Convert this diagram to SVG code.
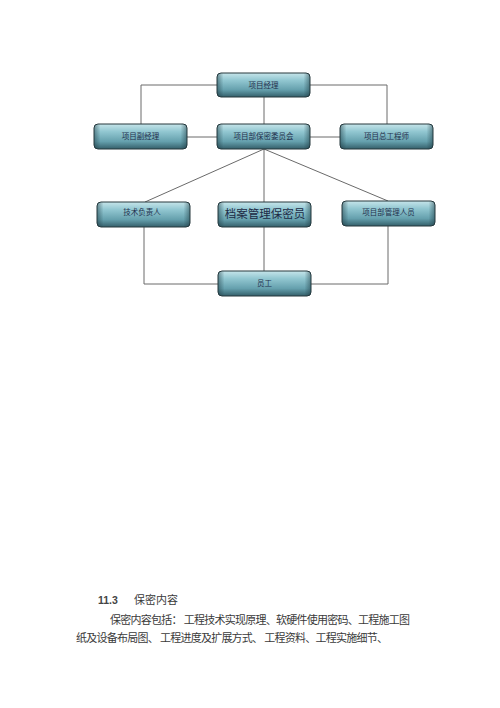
<svg xmlns="http://www.w3.org/2000/svg" width="500" height="708" viewBox="0 0 500 708">
<defs>
<linearGradient id="gv" x1="0" y1="0" x2="0" y2="1">
<stop offset="0" stop-color="#c6e5ea"/>
<stop offset="0.3" stop-color="#92c7d1"/>
<stop offset="0.7" stop-color="#65a0ad"/>
<stop offset="1" stop-color="#345f6a"/>
</linearGradient>
<linearGradient id="gh" x1="0" y1="0" x2="1" y2="0">
<stop offset="0" stop-color="#1d3a42" stop-opacity="0.5"/>
<stop offset="0.07" stop-color="#1d3a42" stop-opacity="0"/>
<stop offset="0.93" stop-color="#1d3a42" stop-opacity="0"/>
<stop offset="1" stop-color="#1d3a42" stop-opacity="0.5"/>
</linearGradient>
</defs>
<style>
.bx{fill:url(#gv);stroke:#27383c;stroke-width:1}
.sh{fill:url(#gh);stroke:none}
.lb{font-family:"Liberation Serif","Noto Sans CJK SC",serif;font-size:7.5px;fill:#22304d;text-anchor:middle}
.lg{font-family:"Liberation Serif","Noto Sans CJK SC",serif;font-size:11.5px;fill:#1d2a45;text-anchor:middle}
.cn{fill:none;stroke:#6a6a6a;stroke-width:1}
.tx{font-family:"Liberation Serif","Noto Sans CJK SC",serif;font-size:11px;fill:#3a3a3a}
.hd{font-family:"Liberation Sans",Arial,sans-serif;font-size:10.5px;font-weight:bold;fill:#444}
</style>
<rect width="500" height="708" fill="#ffffff"/>
<g id="connectors">
<path class="cn" d="M217,85 H141 V124"/>
<path class="cn" d="M310,85 H387 V124"/>
<path class="cn" d="M264,97 V124"/>
<path class="cn" d="M187,137 H217"/>
<path class="cn" d="M310,137 H340"/>
<path class="cn" d="M264,149 L145,202"/>
<path class="cn" d="M264,149 V202"/>
<path class="cn" d="M264,149 L388,201"/>
<path class="cn" d="M144,227 V284 H218"/>
<path class="cn" d="M388,226 V284 H311"/>
<path class="cn" d="M264,227 V271"/>
</g>
<g id="n-manager">
<rect class="bx" x="217" y="73" width="93" height="24" rx="4"/>
<rect class="sh" x="217" y="73" width="93" height="24" rx="4"/>
<text class="lb" x="263.5" y="87.5">项目经理</text>
</g>
<g id="n-deputy">
<rect class="bx" x="94" y="124" width="93" height="25" rx="4"/>
<rect class="sh" x="94" y="124" width="93" height="25" rx="4"/>
<text class="lb" x="140.5" y="139">项目副经理</text>
</g>
<g id="n-committee">
<rect class="bx" x="217" y="124" width="93" height="25" rx="4"/>
<rect class="sh" x="217" y="124" width="93" height="25" rx="4"/>
<text class="lb" x="263.5" y="139">项目部保密委员会</text>
</g>
<g id="n-chief">
<rect class="bx" x="340" y="124" width="93" height="25" rx="4"/>
<rect class="sh" x="340" y="124" width="93" height="25" rx="4"/>
<text class="lb" x="386.5" y="139">项目总工程师</text>
</g>
<g id="n-tech">
<rect class="bx" x="97" y="202" width="93" height="25" rx="4"/>
<rect class="sh" x="97" y="202" width="93" height="25" rx="4"/>
<text class="lb" x="142" y="215">技术负责人</text>
</g>
<g id="n-archive">
<rect class="bx" x="218" y="202" width="93" height="25" rx="4"/>
<rect class="sh" x="218" y="202" width="93" height="25" rx="4"/>
<text class="lg" x="265" y="218">档案管理保密员</text>
</g>
<g id="n-staff-mgmt">
<rect class="bx" x="342" y="201" width="93" height="25" rx="4"/>
<rect class="sh" x="342" y="201" width="93" height="25" rx="4"/>
<text class="lb" x="388.5" y="215">项目部管理人员</text>
</g>
<g id="n-staff">
<rect class="bx" x="218" y="271" width="93" height="25" rx="4"/>
<rect class="sh" x="218" y="271" width="93" height="25" rx="4"/>
<text class="lb" x="264.5" y="285.5">员工</text>
</g>
<g id="body-text">
<text class="hd" x="98" y="604">11.3</text>
<text class="tx" x="134" y="604">保密内容</text>
<text class="tx" x="110" y="624" textLength="300" lengthAdjust="spacing">保密内容包括：  工程技术实现原理、软硬件使用密码、工程施工图</text>
<text class="tx" x="76" y="642" textLength="312" lengthAdjust="spacing">纸及设备布局图、 工程进度及扩展方式、 工程资料、工程实施细节、</text>
</g>
</svg>
